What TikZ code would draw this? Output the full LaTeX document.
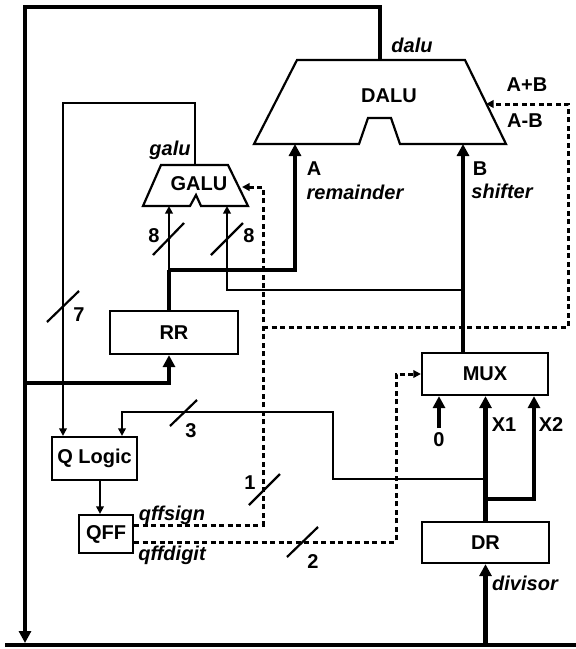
\documentclass[tikz,border=0pt]{standalone}
\usepackage{fontspec}
\setmainfont{Liberation Sans}
\usetikzlibrary{arrows.meta}
\begin{document}
\begin{tikzpicture}[x=1pt,y=-1pt,
  bus/.style={line width=4.5pt},
  wire/.style={line width=2.2pt},
  ctl/.style={line width=3pt, dash pattern=on 5pt off 3.5pt},
  bigtip/.style={-{Triangle[length=12pt,width=12pt]}},
  smalltip/.style={-{Triangle[length=7.5pt,width=7.5pt]}},
  unit/.style={line width=2.2pt, line join=miter},
  box/.style={draw, line width=2.2pt, inner sep=0pt, font=\fontsize{20}{24}\selectfont\bfseries},
  lab/.style={inner sep=0pt, font=\fontsize{20}{24}\selectfont\bfseries},
  ilab/.style={inner sep=0pt, font=\fontsize{20}{24}\selectfont\bfseries\itshape},
  slash/.style={line width=2.2pt}]
\useasboundingbox (0,0) rectangle (576,649);

% ---- boxes
\node[box, minimum width=128pt, minimum height=43pt] (RR) at (174,332.5) {RR};
\node[box, minimum width=126pt, minimum height=42pt] (MUX) at (485,374) {MUX};
\node[box, minimum width=127pt, minimum height=41pt] (DR) at (485.5,542.5) {DR};
\node[box, minimum width=85pt, minimum height=43pt] (QL) at (94.5,458.5) {Q Logic};
\node[box, minimum width=54pt, minimum height=38pt] (QFF) at (106,534) {QFF};

% ---- DALU
\coordinate (D1) at (297,60);  \coordinate (D2) at (465,60);
\coordinate (D3) at (506,144); \coordinate (D4) at (400,144);
\coordinate (D5) at (391,118); \coordinate (D6) at (368,118);
\coordinate (D7) at (359,144); \coordinate (D8) at (254,144);
\draw[unit] (D1)--(D2)--(D3)--(D4)--(D5)--(D6)--(D7)--(D8)--cycle;
\node[lab] (daluL) at (389,96) {DALU};

% ---- GALU
\coordinate (G1) at (161,165); \coordinate (G2) at (228,165);
\coordinate (G3) at (248,206); \coordinate (G4) at (201,206);
\coordinate (G5) at (196,195); \coordinate (G6) at (190,206);
\coordinate (G7) at (143,206);
\draw[unit] (G1)--(G2)--(G3)--(G4)--(G5)--(G6)--(G7)--cycle;
\node[lab] (galuL) at (199,184) {GALU};

% ---- ports and junctions
\coordinate (dout) at (380,60);
\coordinate (tr) at (380,7);
\coordinate (tl) at (25,7);
\coordinate (leftend) at (25,643);
\coordinate (busL) at (5,645);
\coordinate (busR) at (576,645);
\coordinate (jr) at (25,383);
\coordinate (dA) at (295,144);
\coordinate (dB) at (463,144);
\coordinate (gA) at (169,206);
\coordinate (gB) at (227,206);
\coordinate (ja) at (169,270);
\coordinate (jb) at (463,290);
\coordinate (gout) at (195,165);
\coordinate (gup) at (195,103);
\coordinate (j3) at (485.5,479);
\coordinate (c3) at (333,412);
\coordinate (c1) at (263,187);
\coordinate (gctl) at (242,187);
\coordinate (jd) at (263,327);
\coordinate (c2) at (568,327);
\coordinate (dctl) at (486,104);
\coordinate (c4) at (396,542);
\coordinate (j2) at (485.5,499);
\coordinate (z0) at (439,428);

% ---- buses
\draw[bus] (busL) -- (busR);
\draw[bus, bigtip] (dout) -- (tr) -- (tl) -- (leftend);
\draw[bus, bigtip] (jr) -| ([xshift=-5pt]RR.south);
\draw[bus] ([xshift=-5pt]RR.north) -- (ja);
\draw[bus, bigtip] (ja) -| (dA);
\draw[bus, bigtip] (MUX.north -| dB) -- (dB);
\draw[bus, bigtip] (DR.south |- busL) -- (DR.south);
\draw[bus, bigtip] (DR.north) -- (DR.north |- MUX.south);
\draw[bus, bigtip] (j2) -| ([xshift=49pt]MUX.south);
\draw[bus, bigtip] (z0) -- ([xshift=-46pt]MUX.south);

% ---- thin wires
\draw[wire, smalltip] (ja) -- (gA);
\draw[wire, smalltip] (jb) -| (gB);
\draw[wire, smalltip] (gout) -- (gup) -| ([xshift=-31.5pt]QL.north);
\draw[wire, smalltip] (j3) -| (c3) -| ([xshift=27.5pt]QL.north);
\draw[wire, smalltip] ([xshift=-6pt]QFF.north |- QL.south) -- ([xshift=-6pt]QFF.north);

% ---- control (dashed)
\draw[ctl, smalltip] ([yshift=9pt]QFF.east) -| (c1) -- (gctl);
\draw[ctl, smalltip] (jd) -- (c2) |- (dctl);
\draw[ctl, smalltip] ([yshift=-8pt]QFF.east) -- (c4) |- (MUX.west);

% ---- width marks
\draw[slash] (47,322) -- (79,291);
\node[lab] (n7) at (79,315) {7};
\draw[slash] (153,255) -- (184,223);
\node[lab] (n8a) at (154,236) {8};
\draw[slash] (211,255) -- (243,223);
\node[lab] (n8b) at (249,236) {8};
\draw[slash] (170,426) -- (197,400);
\node[lab] (n3) at (191,431) {3};
\draw[slash] (249,505) -- (280,474);
\node[lab] (n1) at (250,483) {1};
\draw[slash] (287,557) -- (318,527);
\node[lab] (n2) at (313,562) {2};

% ---- labels
\node[ilab] (dalu) at (412,45) {dalu};
\node[ilab] (galu) at (170,150) {galu};
\node[lab] (apb) at (527,85) {A+B};
\node[lab] (amb) at (525,121) {A-B};
\node[lab] (la) at (314,169) {A};
\node[ilab] (rem) at (355,192) {remainder};
\node[lab] (lb) at (480,169) {B};
\node[ilab] (shf) at (502,191) {shifter};
\node[lab] (x1) at (504,425) {X1};
\node[lab] (x2) at (551,425) {X2};
\node[lab] (zero) at (439,440) {0};
\node[ilab] (div) at (525,583) {divisor};
\node[ilab] (qfs) at (172,515) {qffsign};
\node[ilab] (qfd) at (172,555) {qffdigit};
\end{tikzpicture}
\end{document}
